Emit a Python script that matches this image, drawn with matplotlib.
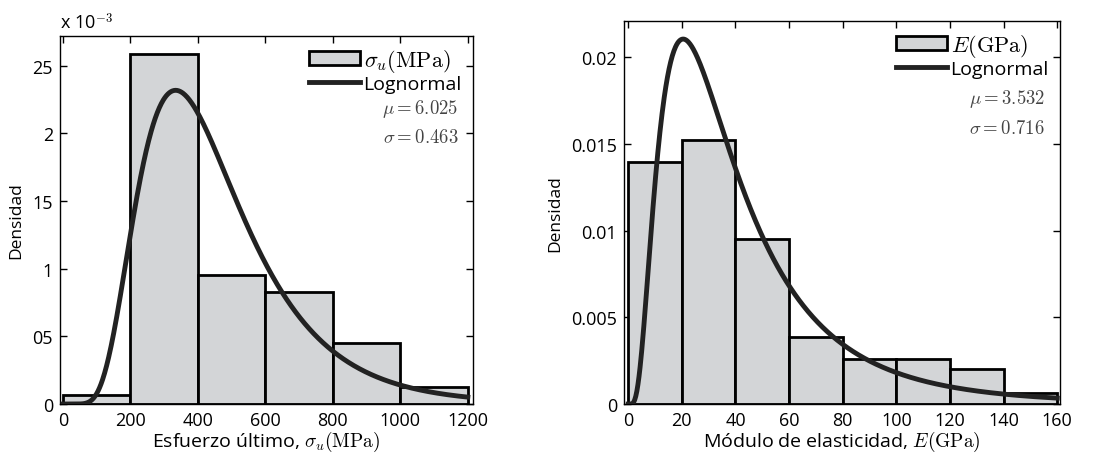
import numpy as np
import matplotlib
matplotlib.use('Agg')
import matplotlib.pyplot as plt

plt.rcParams['font.family'] = ['Open Sans', 'DejaVu Sans']
plt.rcParams['mathtext.fontset'] = 'cm'

# Esfuerzo ultimo histogram (density) and lognormal fit
su_edges = [0, 200, 400, 600, 800, 1000, 1200]
su_dens = [0.069e-3, 2.59e-3, 0.953e-3, 0.825e-3, 0.448e-3, 0.128e-3]
su_mu, su_sigma = 6.025, 0.463
su_xticks = [0, 200, 400, 600, 800, 1000, 1200]
su_yticks = [0, 0.5e-3, 1e-3, 1.5e-3, 2e-3, 2.5e-3]
su_yticklabels = ['0', '05', '1', '15', '2', '25']

# Modulo de elasticidad histogram (density) and lognormal fit
e_edges = [0, 20, 40, 60, 80, 100, 120, 140, 160]
e_dens = [0.01394, 0.01521, 0.00953, 0.00387, 0.00259, 0.00259, 0.00201, 0.00063]
e_mu, e_sigma = 3.532, 0.716
e_xticks = [0, 20, 40, 60, 80, 100, 120, 140, 160]
e_yticks = [0, 0.005, 0.01, 0.015, 0.02]
e_yticklabels = ['0', '0.005', '0.01', '0.015', '0.02']

bar_color = '#d3d5d7'
line_color = '#222222'


def lognpdf(x, mu, s):
    return np.exp(-(np.log(x) - mu) ** 2 / (2 * s ** 2)) / (x * s * np.sqrt(2 * np.pi))


def draw(ax, edges, dens, mu, s, xlim, ylim, label, xlabel, xticks, yticks,
         yticklabels, ytxt):
    edges = np.array(edges)
    bars = ax.bar(edges[:-1], dens, width=np.diff(edges), align='edge',
                  color=bar_color, edgecolor='black', linewidth=2, zorder=2)
    x = np.linspace(0.01, edges[-1], 800)
    line, = ax.plot(x, lognpdf(x, mu, s), color=line_color, lw=3.5, zorder=3)
    ax.set_xlim(*xlim)
    ax.set_ylim(*ylim)
    ax.set_xticks(xticks)
    ax.set_yticks(yticks)
    ax.set_yticklabels(yticklabels)
    ax.tick_params(direction='in', top=True, right=True, length=5, width=1,
                   labelsize=13, pad=5)
    ax.set_xlabel(xlabel, fontsize=14, labelpad=0)
    ax.set_ylabel('Densidad', fontsize=12.5, labelpad=6)
    for sp in ax.spines.values():
        sp.set_linewidth(1)
    leg = ax.legend([bars, line], [label, 'Lognormal'], loc='upper right',
                    frameon=False, fontsize=16, handlelength=2.3,
                    handleheight=0.6, handletextpad=0.15, borderaxespad=0.1,
                    labelspacing=0.0)
    leg.get_texts()[1].set_fontsize(14)
    ax.text(0.965, ytxt, r'$\mu = %.3f$' % mu, transform=ax.transAxes,
            ha='right', va='center', fontsize=13.5, color='#444444')
    ax.text(0.965, ytxt - 0.08, r'$\sigma = %.3f$' % s, transform=ax.transAxes,
            ha='right', va='center', fontsize=13.5, color='#444444')


fig = plt.figure(figsize=(11.13, 4.56), dpi=100)
ax1 = fig.add_axes([0.0539, 0.1118, 0.371, 0.807])
ax2 = fig.add_axes([0.5606, 0.1118, 0.3917, 0.840])

draw(ax1, su_edges, su_dens, su_mu, su_sigma, (-9, 1215), (0, 2.72e-3),
     r'$\sigma_u(\mathrm{MPa})$', r'Esfuerzo último, $\sigma_u(\mathrm{MPa})$',
     su_xticks, su_yticks, su_yticklabels, 0.805)
ax1.text(0.0, 1.01, r'x 10$^{-3}$', transform=ax1.transAxes, fontsize=13,
         ha='left', va='bottom')

draw(ax2, e_edges, e_dens, e_mu, e_sigma, (-1.6, 161), (0, 0.0221),
     r'$E(\mathrm{GPa})$', r'Módulo de elasticidad, $E(\mathrm{GPa})$',
     e_xticks, e_yticks, e_yticklabels, 0.80)

fig.savefig('out.png', dpi=100)
